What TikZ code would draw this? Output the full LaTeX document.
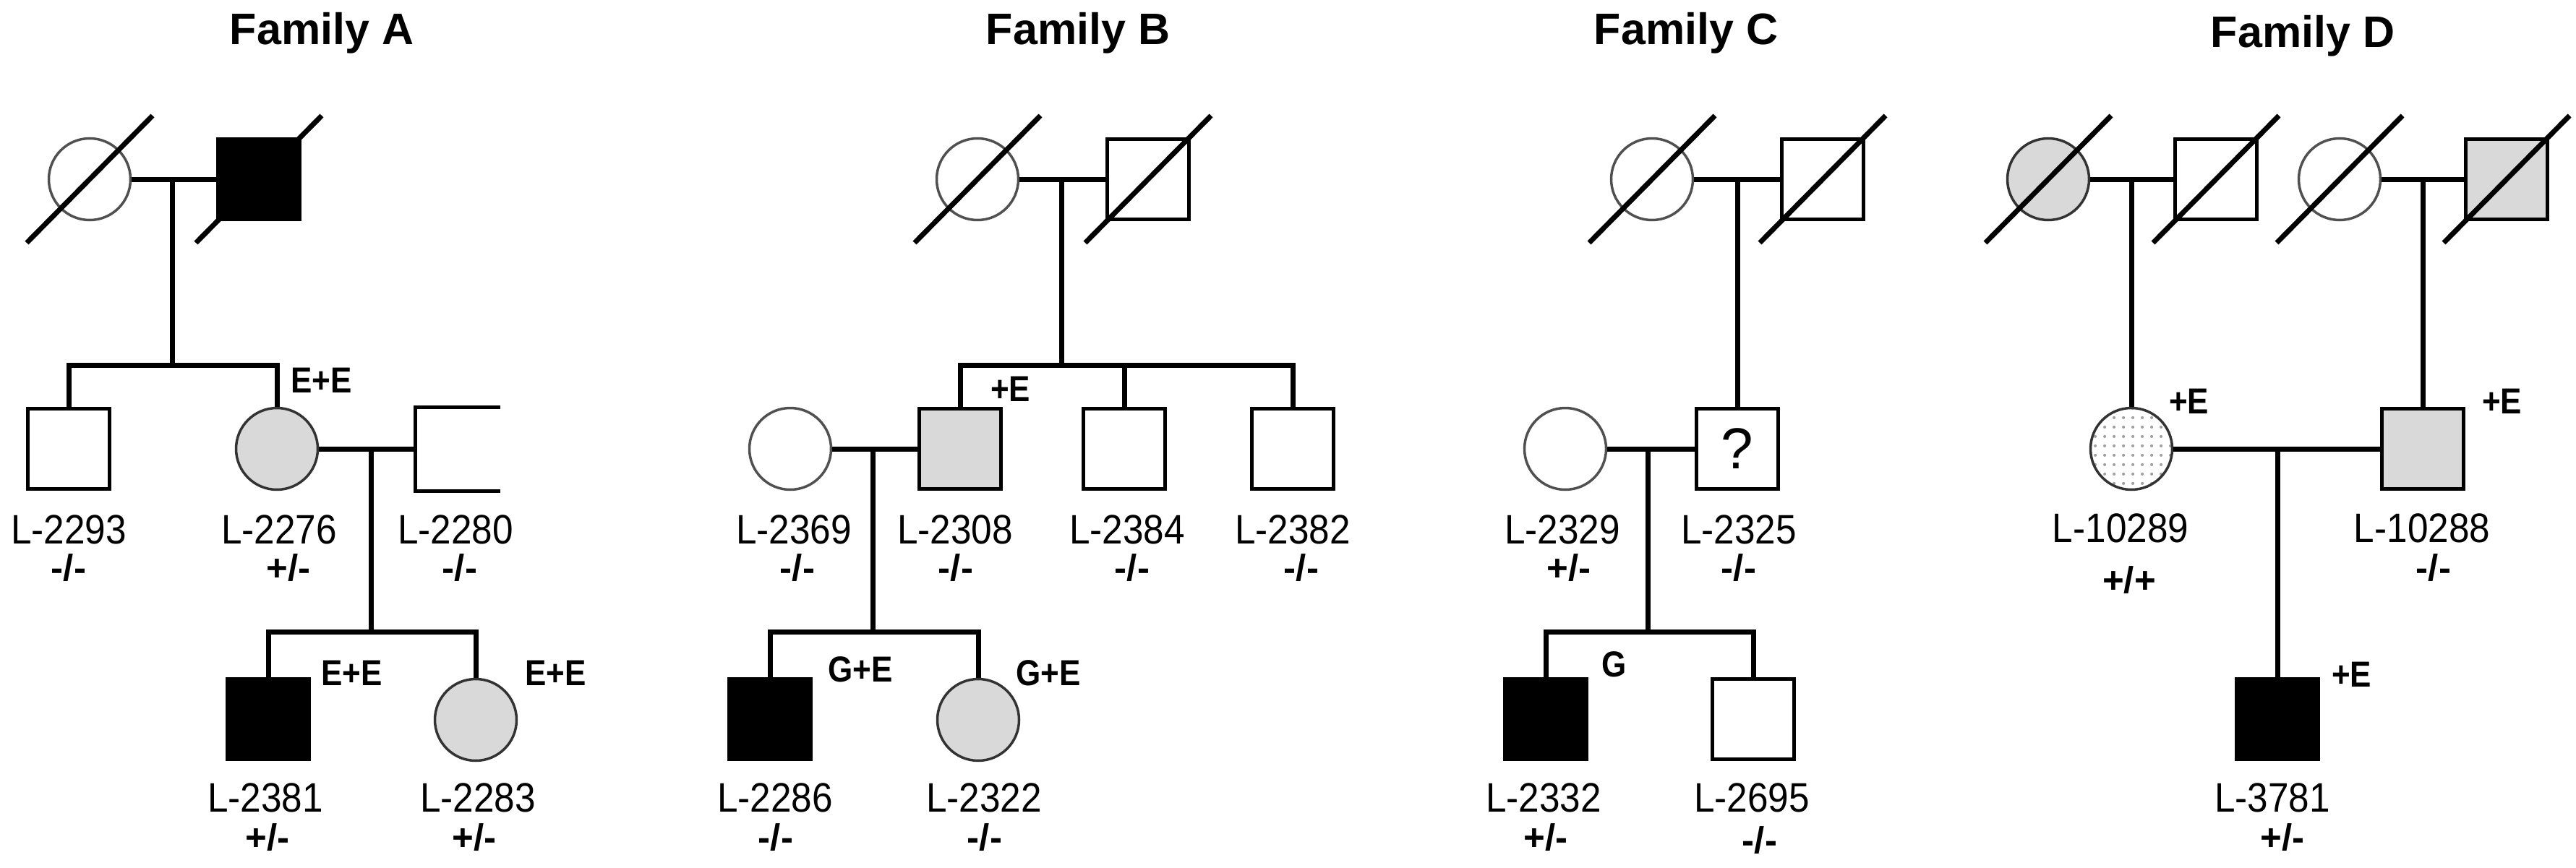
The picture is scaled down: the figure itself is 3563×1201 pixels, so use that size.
\documentclass[tikz,border=0pt]{standalone}
\usepackage{fontspec}
\setmainfont{Liberation Sans}
\newfontfamily\labfont[FakeStretch=0.9]{Liberation Sans}
\newfontfamily\tagfont[FakeStretch=0.88]{Liberation Sans}
\usetikzlibrary{calc,patterns.meta}
\definecolor{affgray}{HTML}{D9D9D9}
\definecolor{rimgray}{HTML}{505050}
\definecolor{dotgray}{HTML}{A0A0A0}
\tikzset{
  male/.style={rectangle, draw=black, line width=5pt, minimum width=113pt, minimum height=111pt, inner sep=0pt, fill=white},
  female/.style={circle, draw=rimgray, line width=3.5pt, minimum size=113pt, inner sep=0pt, fill=white},
  conn/.style={line width=7pt, line join=miter},
  dslash/.style={line width=7pt},
  famtitle/.style={font=\bfseries\fontsize{61}{64}\selectfont, anchor=base, inner sep=0pt},
  lab/.style={font=\labfont\fontsize{57}{60}\selectfont, anchor=base, inner sep=0pt},
  geno/.style={font=\bfseries\fontsize{51}{54}\selectfont, anchor=base, inner sep=0pt},
  tagtext/.style={font=\tagfont\bfseries\fontsize{50}{54}\selectfont, anchor=base west, inner sep=0pt},
}
\newcommand\pedDead[1]{\draw[dslash] ($(#1)+(-87,88)$) -- ($(#1)+(87,-88)$);}
\begin{document}
\begin{tikzpicture}[x=1pt,y=-1pt]
\fill[white] (0,0) rectangle (3563,1201);
\useasboundingbox (0,0) rectangle (3563,1201);

% ---------------- Family A ----------------
\node[famtitle] (tA) at (445,62) {Family A};
\node[female] (A1) at (124,248) {};
\node[male, fill=black] (A2) at (358,248) {};
\node[male] (A3) at (95,621) {};
\node[female, fill=affgray, draw=black!80] (A4) at (383,621) {};
\node[male, draw=none, fill=none] (A5) at (633,621) {};
\node[male, fill=black] (A6) at (371,995) {};
\node[female, fill=affgray, draw=black!80] (A7) at (658,996) {};
\pedDead{A1}
\pedDead{A2}
\draw[line width=5pt] (A5.north east) -- (A5.north west) -- (A5.south west) -- (A5.south east);
\coordinate (mA) at (238,248);
\coordinate (sA) at (238,505);
\coordinate (mA2) at (513,621);
\coordinate (sA2) at (513,874);
\draw[conn] (A1.east) -- (A2.west);
\draw[conn] (mA) -- (sA);
\draw[conn] (A3.north) |- (sA) -| (A4.north);
\draw[conn] (A4.east) -- (A5.west);
\draw[conn] (mA2) -- (sA2);
\draw[conn] (A6.north) |- (sA2) -| (A7.north);
\node[lab] (A3l) at (95,752) {L-2293};
\node[geno] (A3g) at (95,803) {-/-};
\node[lab] (A4l) at (386,752) {L-2276};
\node[geno] (A4g) at (399,803) {+/-};
\node[lab] (A5l) at (630,752) {L-2280};
\node[geno] (A5g) at (636,803) {-/-};
\node[lab] (A6l) at (367,1123) {L-2381};
\node[geno] (A6g) at (370,1176) {+/-};
\node[lab] (A7l) at (661,1123) {L-2283};
\node[geno] (A7g) at (656,1176) {+/-};
\node[tagtext] (A4t) at (402,543) {E+E};
\node[tagtext] (A6t) at (444,948) {E+E};
\node[tagtext] (A7t) at (726,948) {E+E};

% ---------------- Family B ----------------
\node[famtitle] (tB) at (1491,62) {Family B};
\node[female] (B1) at (1352,248) {};
\node[male] (B2) at (1588,248) {};
\node[female] (B3) at (1093,621) {};
\node[male, fill=affgray] (B4) at (1328,621) {};
\node[male] (B5) at (1555,621) {};
\node[male] (B6) at (1788,621) {};
\node[male, fill=black] (B7) at (1065,995) {};
\node[female, fill=affgray, draw=black!80] (B8) at (1353,996) {};
\pedDead{B1}
\pedDead{B2}
\coordinate (mB) at (1468,248);
\coordinate (sB) at (1468,505);
\coordinate (mB2) at (1207,621);
\coordinate (sB2) at (1207,874);
\draw[conn] (B1.east) -- (B2.west);
\draw[conn] (mB) -- (sB);
\draw[conn] (B4.north) |- (sB) -| (B6.north);
\draw[conn] (B5.north) -- (B5.north |- sB);
\draw[conn] (B3.east) -- (B4.west);
\draw[conn] (mB2) -- (sB2);
\draw[conn] (B7.north) |- (sB2) -| (B8.north);
\node[lab] (B3l) at (1098,752) {L-2369};
\node[geno] (B3g) at (1103,803) {-/-};
\node[lab] (B4l) at (1321,752) {L-2308};
\node[geno] (B4g) at (1322,803) {-/-};
\node[lab] (B5l) at (1559,752) {L-2384};
\node[geno] (B5g) at (1566,803) {-/-};
\node[lab] (B6l) at (1788,752) {L-2382};
\node[geno] (B6g) at (1800,803) {-/-};
\node[lab] (B7l) at (1072,1123) {L-2286};
\node[geno] (B7g) at (1073,1176) {-/-};
\node[lab] (B8l) at (1361,1123) {L-2322};
\node[geno] (B8g) at (1362,1176) {-/-};
\node[tagtext] (B4t) at (1370,555) {+E};
\node[tagtext] (B7t) at (1145,943) {G+E};
\node[tagtext] (B8t) at (1405,948) {G+E};

% ---------------- Family C ----------------
\node[famtitle] (tC) at (2332,62) {Family C};
\node[female] (C1) at (2285,248) {};
\node[male] (C2) at (2521,248) {};
\node[female] (C3) at (2165,621) {};
\node[male] (C4) at (2403,621) {\fontsize{80}{80}\selectfont ?};
\node[male, fill=black] (C5) at (2138,995) {};
\node[male] (C6) at (2425,995) {};
\pedDead{C1}
\pedDead{C2}
\coordinate (mC) at (2403,248);
\coordinate (mC2) at (2279,621);
\coordinate (sC2) at (2279,874);
\draw[conn] (C1.east) -- (C2.west);
\draw[conn] (mC) -- (C4.north);
\draw[conn] (C3.east) -- (C4.west);
\draw[conn] (mC2) -- (sC2);
\draw[conn] (C5.north) |- (sC2) -| (C6.north);
\node[lab] (C3l) at (2161,752) {L-2329};
\node[geno] (C3g) at (2170,803) {+/-};
\node[lab] (C4l) at (2405,752) {L-2325};
\node[geno] (C4g) at (2405,803) {-/-};
\node[lab] (C5l) at (2135,1123) {L-2332};
\node[geno] (C5g) at (2138,1176) {+/-};
\node[lab] (C6l) at (2423,1123) {L-2695};
\node[geno] (C6g) at (2434,1180) {-/-};
\node[tagtext] (C5t) at (2215,936) {G};

% ---------------- Family D ----------------
\node[famtitle] (tD) at (3185,66) {Family D};
\node[female, fill=affgray, draw=black!80] (D1) at (2833,248) {};
\node[male] (D2) at (3065,248) {};
\node[female] (D3) at (3236,248) {};
\node[male, fill=affgray] (D4) at (3467,248) {};
\node[female, draw=black!80, preaction={fill=white}, pattern={Dots[radius=2.2pt, distance=13pt]}, pattern color=dotgray] (D5) at (2948,621) {};
\node[male, fill=affgray] (D6) at (3351,621) {};
\node[male, fill=black] (D7) at (3150,995) {};
\pedDead{D1}
\pedDead{D2}
\pedDead{D3}
\pedDead{D4}
\coordinate (mD) at (2948,248);
\coordinate (mDb) at (3351,248);
\coordinate (mD2) at (3150,621);
\draw[conn] (D1.east) -- (D2.west);
\draw[conn] (mD) -- (D5.north);
\draw[conn] (D3.east) -- (D4.west);
\draw[conn] (mDb) -- (D6.north);
\draw[conn] (D5.east) -- (D6.west);
\draw[conn] (mD2) -- (D7.north);
\node[lab] (D5l) at (2933,750) {L-10289};
\node[geno] (D5g) at (2945,820) {+/+};
\node[lab] (D6l) at (3350,750) {L-10288};
\node[geno] (D6g) at (3366,803) {-/-};
\node[lab] (D7l) at (3143,1123) {L-3781};
\node[geno] (D7g) at (3157,1176) {+/-};
\node[tagtext] (D5t) at (3000,572) {+E};
\node[tagtext] (D6t) at (3433,572) {+E};
\node[tagtext] (D7t) at (3225,950) {+E};
\end{tikzpicture}
\end{document}
